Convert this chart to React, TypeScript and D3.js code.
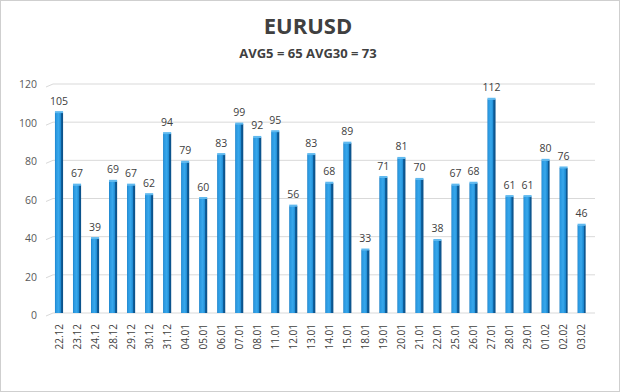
import React, { useEffect } from 'react';
import * as d3 from 'd3';

const dates = ['22.12', '23.12', '24.12', '28.12', '29.12', '30.12', '31.12', '04.01', '05.01', '06.01', '07.01', '08.01', '11.01', '12.01', '13.01', '14.01', '15.01', '18.01', '19.01', '20.01', '21.01', '22.01', '25.01', '26.01', '27.01', '28.01', '29.01', '01.02', '02.02', '03.02'];
const values = [105, 67, 39, 69, 67, 62, 94, 79, 60, 83, 99, 92, 95, 56, 83, 68, 89, 33, 71, 81, 70, 38, 67, 68, 112, 61, 61, 80, 76, 46];
const yTicks = [0, 20, 40, 60, 80, 100, 120];
const title = 'EURUSD';
const subtitle = 'AVG5 = 65 AVG30 = 73';

const W = 620;
const H = 392;
const font = '"Open Sans", "Liberation Sans", sans-serif';

const App = () => {
  useEffect(() => {
    document.body.style.margin = '0';
  }, []);

  // band scale tuned so bar centres sit ~18px apart, first at x≈59
  const x = d3.scaleBand().domain(dates).range([50, 590.6]).paddingInner(0.55).paddingOuter(0.275);
  const y = d3.scaleLinear().domain([0, 120]).range([313, 84]);
  const bw = x.bandwidth();

  return (
    <svg width={W} height={H} style={{ display: 'block' }}>
      <defs>
        <linearGradient id="barGrad" x1="0" x2="1" y1="0" y2="0">
          <stop offset="0" stopColor="#1a7fc6" />
          <stop offset="0.12" stopColor="#2a98e0" />
          <stop offset="0.45" stopColor="#38a8ec" />
          <stop offset="0.74" stopColor="#1c88d0" />
          <stop offset="0.75" stopColor="#0e5f9c" />
          <stop offset="1" stopColor="#0b4f86" />
        </linearGradient>
      </defs>
      <rect x={0} y={0} width={W} height={H} fill="#fff" />
      <rect x={0.5} y={0.5} width={W - 1} height={H - 1} fill="none" stroke="#cfcfcf" />

      <text x={308} y={34} textAnchor="middle" fontFamily={font} fontWeight="bold" fontSize={22} fill="#404040">
        {title}
      </text>
      <text x={308} y={58} textAnchor="middle" fontFamily={font} fontWeight="bold" fontSize={13} fill="#404040">
        {subtitle}
      </text>

      {yTicks.map((t) => (
        <g key={t}>
          <path
            d={`M46,${y(t) + 3}L53,${y(t)}L595,${y(t)}`}
            fill="none"
            stroke="#d9d9d9"
            strokeWidth={1}
          />
          <text x={37} y={y(t) + 4 + (120 - t) * 0.02} textAnchor="end" fontFamily={font} fontSize={10.5} fill="#595959">
            {t}
          </text>
        </g>
      ))}

      {dates.map((d, i) => {
        const bx = x(d) as number;
        const by = y(values[i]);
        return (
          <g key={d}>
            <rect x={bx} y={by} width={bw} height={y(0) - by} fill="url(#barGrad)" />
            <rect x={bx} y={by - 1.5} width={bw} height={2} fill="#5fb9ef" />
            <text x={bx + bw / 2} y={by - 8} textAnchor="middle" fontFamily={font} fontSize={10.5} fill="#404040">
              {values[i]}
            </text>
            <text
              transform={`translate(${bx + bw / 2 + 3.5},${324}) rotate(-90)`}
              textAnchor="end"
              fontFamily={font}
              fontSize={10}
              fill="#404040"
            >
              {d}
            </text>
          </g>
        );
      })}
    </svg>
  );
};

export default App;
